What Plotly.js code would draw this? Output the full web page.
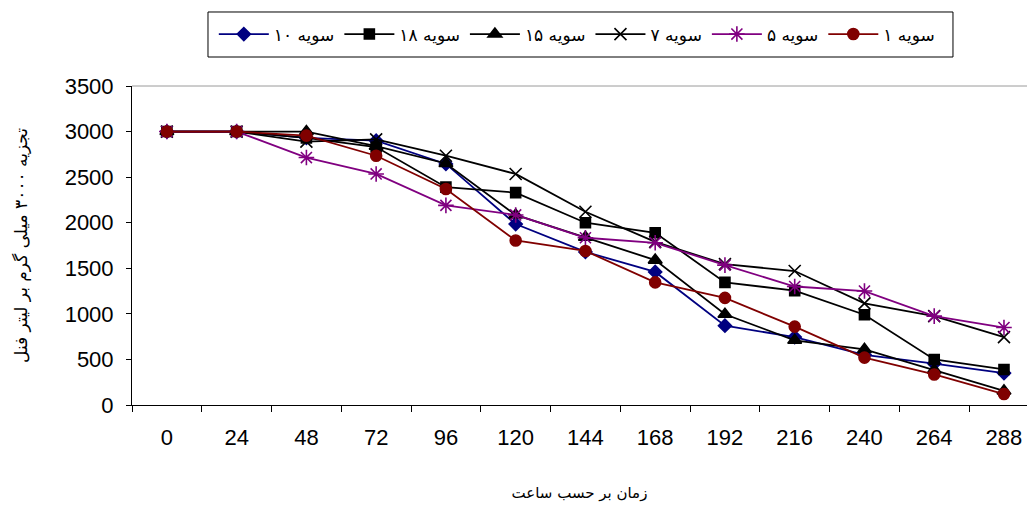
<!DOCTYPE html>
<html>
<head>
<meta charset="utf-8">
<script src="https://cdn.plot.ly/plotly-3.0.1.min.js"></script>
<style>
html, body { margin: 0; padding: 0; overflow: hidden; background: #fff; }
#chart { width: 1027px; height: 507px; }
</style>
</head>
<body>
<div id="chart"></div>
<script>
const hours = ['0','24','48','72','96','120','144','168','192','216','240','264','288'];
const s10 = [3000,3000,2930,2900,2645,1985,1680,1460,870,745,550,455,350];
const s18 = [3000,3000,2930,2830,2390,2330,2000,1890,1345,1255,990,500,390];
const s15 = [3000,3000,3000,2840,2650,2085,1840,1590,995,710,610,385,155];
const s7  = [3000,3000,2890,2915,2735,2535,2120,1790,1545,1470,1115,975,745];
const s5  = [3000,3000,2715,2535,2190,2085,1835,1780,1535,1300,1250,975,850];
const s1  = [3000,3000,2955,2735,2370,1805,1690,1345,1175,860,520,335,120];
const seriesNames = ['سویه ۱۰','سویه ۱۸','سویه ۱۵','سویه ۷','سویه ۵','سویه ۱'];
const yTitle = 'تجزیه ۳۰۰۰ میلی گرم بر لیتر فنل';
const xTitle = 'زمان بر حسب ساعت';

const styles = [
  {color:'#000080', symbol:'diamond', size:10},
  {color:'#000000', symbol:'square', size:10},
  {color:'#000000', symbol:'triangle-up', size:12},
  {color:'#000000', symbol:'x-thin-open', size:12},
  {color:'#800080', symbol:'asterisk-open', size:13},
  {color:'#800000', symbol:'circle', size:11}
];
const allSeries = [s10, s18, s15, s7, s5, s1];

const traces = allSeries.map((ys, i) => ({
  type: 'scatter',
  mode: 'lines+markers',
  x: hours,
  y: ys,
  name: seriesNames[i],
  line: {color: styles[i].color, width: 1.8},
  marker: {color: styles[i].color, symbol: styles[i].symbol, size: styles[i].size,
           line: {color: styles[i].color, width: 1.6}}
}));

const layout = {
  width: 1027, height: 507,
  margin: {l: 132, r: 0, t: 86, b: 102},
  paper_bgcolor: '#fff', plot_bgcolor: '#fff',
  font: {family: 'Liberation Sans, Arial, sans-serif', color: '#000'},
  showlegend: true,
  legend: {
    orientation: 'h', x: 0.497, xanchor: 'center', y: 1.1614, yanchor: 'middle',
    borderwidth: 0, bgcolor: 'rgba(0,0,0,0)',
    font: {family: 'DejaVu Sans, sans-serif', size: 17, color: '#000'},
    itemwidth: 50
  },
  xaxis: {
    type: 'category', range: [-0.5, 12.33],
    tickson: 'boundaries', ticks: 'outside', ticklen: 6, tickcolor: '#000',
    showline: true, linecolor: '#000', linewidth: 1,
    showgrid: false, zeroline: false,
    tickfont: {size: 22, color: '#000'}, ticklabelstandoff: 13,
    title: {text: xTitle, font: {family: 'DejaVu Sans, sans-serif', size: 15, color: '#000'}, standoff: 38}
  },
  yaxis: {
    range: [0, 3500], dtick: 500, tick0: 0,
    ticks: 'outside', ticklen: 5, tickcolor: '#000',
    showline: true, linecolor: '#000', linewidth: 1,
    showgrid: false, zeroline: false,
    tickfont: {size: 22, color: '#000'}, ticklabelstandoff: 8,
    title: {text: yTitle, font: {family: 'DejaVu Sans, sans-serif', size: 17, color: '#000'}, standoff: 32}
  },
  shapes: [
    {type: 'line', xref: 'paper', yref: 'paper', x0: 0, x1: 1, y0: 1, y1: 1,
     line: {color: '#9a9a9a', width: 1}},
    {type: 'rect', xref: 'paper', yref: 'paper', x0: 0.0849, x1: 0.9173, y0: 1.0909, y1: 1.2320,
     line: {color: '#000', width: 1}, fillcolor: 'rgba(0,0,0,0)'}
  ]
};

Plotly.newPlot('chart', traces, layout, {displayModeBar: false, staticPlot: true});
</script>
</body>
</html>
